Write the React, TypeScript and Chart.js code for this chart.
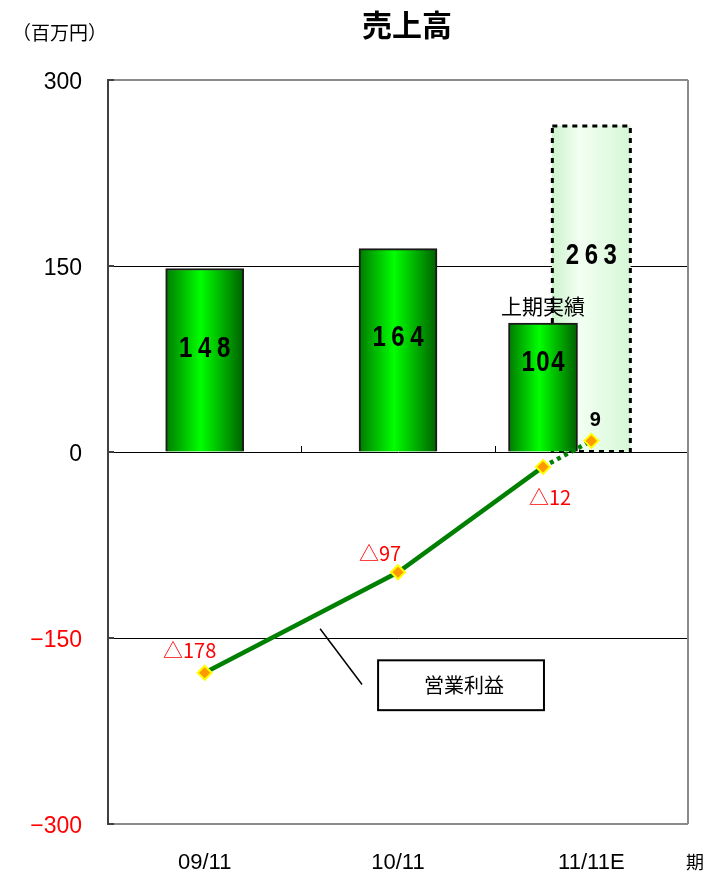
import { useEffect, useRef } from 'react';
import { Chart, registerables } from 'chart.js';

Chart.register(...registerables);

// ---- data -------------------------------------------------------------
const categories = ['09/11', '10/11', '11/11E'];
const sales = [148, 164, 263]; // 11/11E = full-year forecast
const salesIsEstimate = [false, false, true];
const firstHalfSales = 104; // 上期実績 (11/11E)
const operatingProfit = [-178, -97, 9];
const firstHalfProfit = -12;
const yTicks = [-300, -150, 0, 150, 300];

const title = '売上高';
const unitLabel = '（百万円）';
const periodLabel = '期';
const firstHalfLabel = '上期実績';
const profitLabel = '営業利益';

// ---- layout helpers ---------------------------------------------------
const CJK = "'Noto Sans CJK JP', 'Noto Sans', sans-serif";
const LATIN = "'Liberation Sans', Arial, sans-serif";
const CENTER = 0.5; // bar centre inside a category slot
const FIRST_HALF_SHIFT = -0.25; // first-half bar sits left of the forecast bar

const salesPoints = sales.map((v, i) => ({ x: i + CENTER, y: v }));
const firstHalfIndex = categories.length - 1;
const firstHalfPoints = [{ x: firstHalfIndex + CENTER + FIRST_HALF_SHIFT, y: firstHalfSales }];
const profitPoints = [
  ...operatingProfit.slice(0, -1).map((v, i) => ({ x: i + CENTER, y: v })),
  { x: firstHalfIndex + CENTER + FIRST_HALF_SHIFT, y: firstHalfProfit },
  { x: firstHalfIndex + CENTER, y: operatingProfit[operatingProfit.length - 1] },
];

function fmtProfit(v: number) {
  return v < 0 ? '△' + Math.abs(v) : String(v);
}

function drawSpaced(
  c: CanvasRenderingContext2D,
  text: string,
  cx: number,
  cy: number,
  font: string,
  spacing: number,
  squeeze: number
) {
  c.save();
  c.font = font;
  c.translate(cx, cy);
  c.scale(squeeze, 1);
  const chars = [...text];
  const widths = chars.map((ch) => c.measureText(ch).width);
  const total = widths.reduce((a, b) => a + b, 0) + spacing * (chars.length - 1);
  let x = -total / 2;
  c.textAlign = 'left';
  c.textBaseline = 'middle';
  c.fillStyle = '#000';
  chars.forEach((ch, i) => {
    c.fillText(ch, x, 0);
    x += widths[i] + spacing;
  });
  c.restore();
}

function barGradient(ctx: any, width: number, light: boolean) {
  const fallback = light ? '#e0fae0' : '#00cc00';
  const chart = ctx.chart;
  const xs = chart.scales?.x;
  const raw = ctx.raw;
  if (!xs || !raw) return fallback;
  const cx = xs.getPixelForValue(raw.x);
  if (!Number.isFinite(cx)) return fallback;
  const g = chart.ctx.createLinearGradient(cx - width / 2, 0, cx + width / 2, 0);
  if (light) {
    g.addColorStop(0, '#cdf3cd');
    g.addColorStop(0.35, '#f2fff2');
    g.addColorStop(1, '#d6f7d6');
  } else {
    g.addColorStop(0, '#007a00');
    g.addColorStop(0.45, '#00ff00');
    g.addColorStop(1, '#006000');
  }
  return g;
}

// label offsets for the profit line (px from each point)
const profitLabelOffsets = [
  { dx: -15, dy: -22 },
  { dx: -18, dy: -19 },
  { dx: 7, dy: 31 },
  { dx: 4, dy: -20 },
];

const decorations = {
  id: 'decorations',
  afterDatasetDraw(chart: any, args: any) {
    if (args.index !== 0) return;
    const c: CanvasRenderingContext2D = chart.ctx;
    const meta = chart.getDatasetMeta(0);
    meta.data.forEach((bar: any, i: number) => {
      if (!salesIsEstimate[i]) return;
      const { x, y, base, width } = bar.getProps(['x', 'y', 'base', 'width'], true);
      c.save();
      c.strokeStyle = '#000';
      c.lineWidth = 3;
      c.setLineDash([5, 5]);
      c.strokeRect(x - width / 2, y, width, base - y);
      c.restore();
    });
  },
  afterDatasetsDraw(chart: any) {
    const c: CanvasRenderingContext2D = chart.ctx;
    const area = chart.chartArea;
    const xs = chart.scales.x;
    const ys = chart.scales.y;
    const zeroY = ys.getPixelForValue(0);

    // right frame line
    c.save();
    c.strokeStyle = '#8a8a8a';
    c.lineWidth = 2;
    c.beginPath();
    c.moveTo(area.right, area.top);
    c.lineTo(area.right, area.bottom);
    c.stroke();
    // small category separators on the zero line
    c.strokeStyle = '#000';
    c.lineWidth = 1;
    for (let i = 1; i < categories.length; i++) {
      const px = Math.round(xs.getPixelForValue(i)) + 0.5;
      c.beginPath();
      c.moveTo(px, zeroY - 6);
      c.lineTo(px, zeroY);
      c.stroke();
    }
    // short inner tick marks on the value axis
    c.strokeStyle = '#404040';
    c.lineWidth = 2;
    yTicks.forEach((v) => {
      const py = Math.round(ys.getPixelForValue(v));
      c.beginPath();
      c.moveTo(area.left, py);
      c.lineTo(area.left + 6, py);
      c.stroke();
    });
    c.restore();

    // bar values
    const salesMeta = chart.getDatasetMeta(0);
    salesMeta.data.forEach((bar: any, i: number) => {
      const { x, y, base } = bar.getProps(['x', 'y', 'base'], true);
      const ly = y + (base - y) * (salesIsEstimate[i] ? 0.4 : 0.44);
      drawSpaced(c, String(sales[i]), x, ly, `bold 30px ${LATIN}`, 7, 0.8);
    });
    const fhMeta = chart.getDatasetMeta(1);
    fhMeta.data.forEach((bar: any) => {
      const { x, y, base } = bar.getProps(['x', 'y', 'base'], true);
      const ly = y + (base - y) * 0.31;
      drawSpaced(c, String(firstHalfSales), x, ly, `bold 30px ${LATIN}`, 2, 0.8);
      c.save();
      c.font = `21px ${CJK}`;
      c.fillStyle = '#000';
      c.textAlign = 'center';
      c.textBaseline = 'middle';
      c.fillText(firstHalfLabel, x, y - 17);
      c.restore();
    });

    // profit labels
    const lineMeta = chart.getDatasetMeta(2);
    lineMeta.data.forEach((pt: any, i: number) => {
      const v = profitPoints[i].y;
      const off = profitLabelOffsets[i];
      c.save();
      c.textAlign = 'center';
      c.textBaseline = 'middle';
      if (v < 0) {
        c.font = `20px ${CJK}`;
        c.fillStyle = '#ff0000';
      } else {
        c.font = `bold 20px ${LATIN}`;
        c.fillStyle = '#000';
      }
      c.fillText(fmtProfit(v), pt.x + off.dx, pt.y + off.dy);
      c.restore();
    });

    // callout for the profit line
    const lx1 = xs.getPixelForValue(1.097);
    const ly1 = ys.getPixelForValue(-142.5);
    const lx2 = xs.getPixelForValue(1.314);
    const ly2 = ys.getPixelForValue(-187.5);
    const bx1 = xs.getPixelForValue(1.397);
    const by1 = ys.getPixelForValue(-168);
    const bx2 = xs.getPixelForValue(2.255);
    const by2 = ys.getPixelForValue(-208.2);
    c.save();
    c.strokeStyle = '#000';
    c.lineWidth = 1.5;
    c.beginPath();
    c.moveTo(lx1, ly1);
    c.lineTo(lx2, ly2);
    c.stroke();
    c.fillStyle = '#fff';
    c.fillRect(bx1, by1, bx2 - bx1, by2 - by1);
    c.lineWidth = 2;
    c.strokeRect(bx1, by1, bx2 - bx1, by2 - by1);
    c.font = `20px ${CJK}`;
    c.fillStyle = '#000';
    c.textAlign = 'center';
    c.textBaseline = 'middle';
    c.fillText(profitLabel, (bx1 + bx2) / 2 + 3, (by1 + by2) / 2);
    c.restore();
  },
  afterDraw(chart: any) {
    const c: CanvasRenderingContext2D = chart.ctx;
    const area = chart.chartArea;
    c.save();
    c.fillStyle = '#000';
    c.textBaseline = 'middle';
    c.textAlign = 'center';
    c.font = `bold 30px ${CJK}`;
    c.fillText(title, (area.left + area.right) / 2 + 9, area.top - 55);
    c.textAlign = 'left';
    c.font = `19px ${CJK}`;
    c.fillText(unitLabel, 12, area.top - 47);
    c.textAlign = 'center';
    c.font = `18px ${CJK}`;
    c.fillText(periodLabel, area.right + 7, area.bottom + 38);
    c.restore();
  },
};

export default function App() {
  const ref = useRef<HTMLCanvasElement | null>(null);

  useEffect(() => {
    document.body.style.margin = '0';
    const canvas = ref.current;
    if (!canvas) return;
    const chart = new Chart(canvas, {
      type: 'bar',
      data: {
        datasets: [
          {
            label: '売上高',
            data: salesPoints as any,
            order: 2,
            grouped: false,
            barThickness: 78,
            backgroundColor: (ctx: any) =>
              barGradient(ctx, 78, salesIsEstimate[ctx.dataIndex] === true),
            borderColor: '#1a1a1a',
            borderWidth: (ctx: any) => (salesIsEstimate[ctx.dataIndex] ? 0 : 2),
          } as any,
          {
            label: firstHalfLabel,
            data: firstHalfPoints as any,
            order: 1,
            grouped: false,
            barThickness: 69,
            backgroundColor: (ctx: any) => barGradient(ctx, 69, false),
            borderColor: '#1a1a1a',
            borderWidth: 2,
          } as any,
          {
            type: 'line',
            label: profitLabel,
            data: profitPoints as any,
            order: 0,
            borderColor: '#008000',
            borderWidth: 4.5,
            pointStyle: 'rectRot',
            pointRadius: 7,
            pointBackgroundColor: '#ff9900',
            pointBorderColor: '#ffff00',
            pointBorderWidth: 2,
            segment: {
              borderDash: (ctx: any) =>
                ctx.p1DataIndex === profitPoints.length - 1 ? [4, 4] : undefined,
            },
          } as any,
        ],
      },
      options: {
        animation: false,
        responsive: false,
        layout: { padding: { top: 80, right: 19, left: 0, bottom: 0 } },
        plugins: {
          legend: { display: false },
          tooltip: { enabled: false },
          title: { display: false },
        },
        scales: {
          x: {
            type: 'linear',
            offset: false,
            min: 0,
            max: categories.length,
            grid: { display: false, drawTicks: false, offset: false },
            border: { display: false },
            afterBuildTicks: (scale: any) => {
              scale.ticks = categories.map((_, i) => ({ value: i + CENTER }));
            },
            afterFit: (scale: any) => {
              scale.height = 51;
            },
            ticks: {
              autoSkip: false,
              maxRotation: 0,
              padding: 26,
              color: '#000',
              font: { family: LATIN, size: 22 },
              callback: (_v: any, i: number) => categories[i],
            },
          },
          y: {
            min: yTicks[0],
            max: yTicks[yTicks.length - 1],
            afterBuildTicks: (scale: any) => {
              scale.ticks = yTicks.map((v) => ({ value: v }));
            },
            afterFit: (scale: any) => {
              scale.width = 108;
            },
            border: { color: '#404040', width: 2 },
            grid: {
              drawTicks: false,
              color: (ctx: any) =>
                Math.abs(ctx.tick?.value) === 300 ? '#8a8a8a' : '#000',
              lineWidth: (ctx: any) => (Math.abs(ctx.tick?.value) === 300 ? 2 : 1),
            },
            ticks: {
              padding: 26,
              labelOffset: 3,
              color: (ctx: any) => (ctx.tick?.value < 0 ? '#ff0000' : '#000'),
              font: { family: LATIN, size: 23 },
              callback: (v: any) => (Number(v) < 0 ? '−' + Math.abs(Number(v)) : String(v)),
            },
          },
        },
      },
      plugins: [decorations],
    } as any);
    return () => chart.destroy();
  }, []);

  return (
    <canvas
      ref={ref}
      width={707}
      height={875}
      style={{ display: 'block', width: 707, height: 875 }}
    />
  );
}
